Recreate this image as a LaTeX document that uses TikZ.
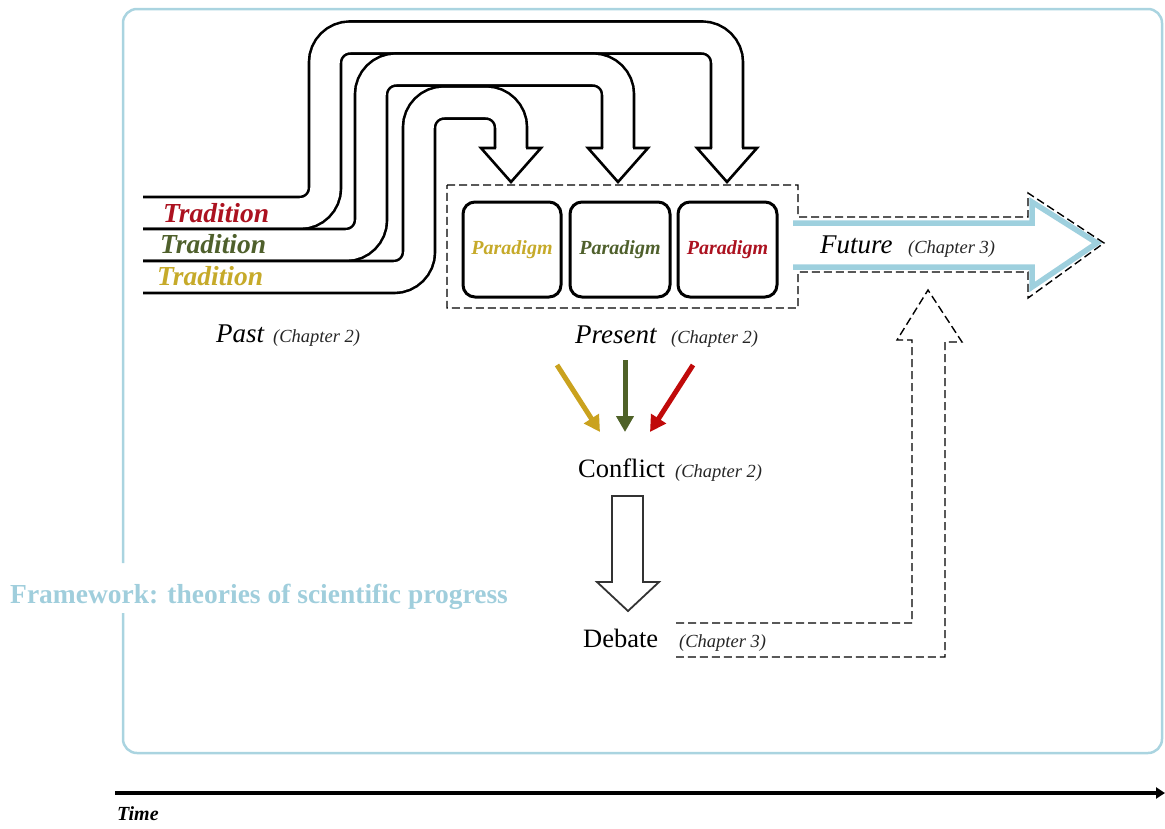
\documentclass[tikz,border=0pt]{standalone}
\usepackage{fontspec}
\setmainfont{Liberation Serif}
\usetikzlibrary{arrows.meta}
\definecolor{tred}{RGB}{172,18,32}
\definecolor{tgreen}{RGB}{79,96,44}
\definecolor{tyellow}{RGB}{198,170,42}
\definecolor{ayellow}{RGB}{202,162,30}
\definecolor{agreen}{RGB}{79,98,40}
\definecolor{ared}{RGB}{192,10,10}
\definecolor{frameblue}{RGB}{170,212,224}
\definecolor{fwblue}{RGB}{160,206,220}
\definecolor{futblue}{RGB}{158,208,222}
\newcommand\setfs[1]{\fontsize{#1}{#1}\selectfont}
\tikzset{
  band/.style={line width=2.6pt, draw=black, double=white, double distance=29.4pt, rounded corners=25pt},
  bhead/.style={line width=2.6pt, draw=black, fill=white, line join=miter},
  pbox/.style={draw, line width=3pt, rounded corners=12pt, minimum height=95pt, inner sep=0pt},
  dsh/.style={line width=1.4pt, dash pattern=on 8pt off 4pt},
  lbl/.style={anchor=base west, inner sep=0pt},
  big/.style={font=\setfs{27}\itshape},
  chap/.style={font=\setfs{18.5}\itshape, text=black!85},
  trad/.style={lbl, font=\setfs{27.5}\bfseries\itshape},
  para/.style={font=\setfs{20}\bfseries\itshape},
  carrow/.style={line width=5pt, -{Triangle[length=16pt,width=17pt]}},
}
\begin{document}
\begin{tikzpicture}[x=1pt,y=-1pt]
\useasboundingbox (0,0) rectangle (1165,828);
% frame
\draw[frameblue, line width=2.5pt, rounded corners=14pt]
  (123,563) -- (123,9) -- (1162,9) -- (1162,753) -- (123,753) -- (123,613);
\node[lbl, font=\setfs{27.5}\bfseries, text=fwblue] (fw) at (10,603) {Framework: theories of scientific progress};

% bands (traditions)
\draw[band] (143,213) -- (325,213) -- (325,37.5) -- (727,37.5) -- (727,148);
\draw[band] (143,245) -- (371,245) -- (371,69.5) -- (618,69.5) -- (618,148);
\draw[band] (143,277) -- (419,277) -- (419,102.5) -- (511,102.5) -- (511,148);
\draw[bhead] (712,148) -- (697,148) -- (727,182) -- (757,148) -- (742,148);
\draw[bhead] (603,148) -- (588,148) -- (618,182) -- (648,148) -- (633,148);
\draw[bhead] (496,148) -- (481,148) -- (511,182) -- (541,148) -- (526,148);

\node[trad, text=tred] (t1) at (163,222) {Tradition};
\node[trad, text=tgreen] (t2) at (160,253) {Tradition};
\node[trad, text=tyellow] (t3) at (157,285) {Tradition};

% future arrow (blue) and dashed outline
\draw[futblue, line width=5.5pt, line join=miter]
  (793,223) -- (1032,223) -- (1032,202) -- (1097,243) -- (1032,287) -- (1032,267) -- (793,267);
\draw[dsh] (447,185) -- (798,185) -- (798,217) -- (1028,217) -- (1028,193) -- (1104,243)
  -- (1028,298) -- (1028,272) -- (798,272) -- (798,308) -- (447,308) -- cycle;

% paradigm boxes
\node[pbox, minimum width=98pt, para, text=tyellow] (p1) at (512,249.5) {Paradigm};
\node[pbox, minimum width=100pt, para, text=tgreen] (p2) at (620,249.5) {Paradigm};
\node[pbox, minimum width=99pt, para, text=tred] (p3) at (727.5,249.5) {Paradigm};

% labels
\node[lbl, big] (past) at (216,342) {Past};
\node[lbl, chap] (pastc) at (273,342) {(Chapter 2)};
\node[lbl, big] (pres) at (575,343) {Present};
\node[lbl, chap] (presc) at (671,343) {(Chapter 2)};
\node[lbl, big] (fut) at (820,253) {Future};
\node[lbl, chap] (futc) at (908,253) {(Chapter 3)};
\node[lbl, font=\setfs{26.5}] (conf) at (578,477) {Conflict};
\node[lbl, chap] (confc) at (675,477) {(Chapter 2)};
\node[lbl, font=\setfs{26.5}] (deb) at (583,647) {Debate};
\node[lbl, chap] (debc) at (679,647) {(Chapter 3)};

% coloured arrows
\coordinate (ya) at (557,365); \coordinate (yb) at (600,432);
\coordinate (ga) at (625,360); \coordinate (gb) at (625,432);
\coordinate (ra) at (693,365); \coordinate (rb) at (650,432);
\draw[carrow, ayellow] (ya) -- (yb);
\draw[carrow, agreen] (ga) -- (gb);
\draw[carrow, ared] (ra) -- (rb);

% conflict -> debate block arrow
\draw[black!80, line width=1.8pt, line join=miter]
  (612,496) -- (643,496) -- (643,582) -- (659,582) -- (628,611) -- (597,582) -- (612,582) -- cycle;

% dashed up arrow from debate to future
\draw[dsh, line join=miter] (676,623) -- (912,623) -- (912,340) -- (897,340) -- (928,290)
  -- (962,342) -- (945,342) -- (945,657) -- (676,657);

% time axis
\draw[line width=4pt, -{Triangle[length=9pt,width=11pt]}] (115,793) -- (1165,793);
\node[lbl, font=\setfs{20}\bfseries\itshape] (time) at (117,820) {Time};
\end{tikzpicture}
\end{document}
